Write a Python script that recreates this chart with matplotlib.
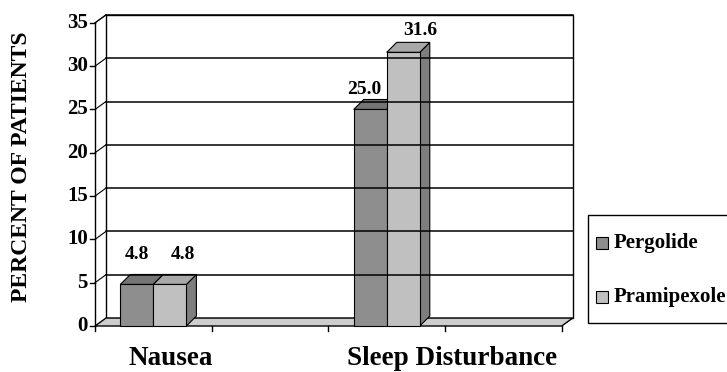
import numpy as np
import matplotlib
matplotlib.use("Agg")
import matplotlib.pyplot as plt
from matplotlib.patches import Polygon, Rectangle

plt.rcParams['font.family'] = ['Liberation Serif', 'DejaVu Serif']
plt.rcParams['font.weight'] = 'bold'

categories = ["Nausea", "Sleep Disturbance"]
cat_slot = [0, 2]                 # slots on the 4-slot floor
series = ["Pergolide", "Pramipexole"]
pergolide = [4.8, 25.0]
pramipexole = [4.8, 31.6]
yticks = [0, 5, 10, 15, 20, 25, 30, 35]

front = {"Pergolide": "#8e8e8e", "Pramipexole": "#c0c0c0"}
top = {"Pergolide": "#757575", "Pramipexole": "#a9a9a9"}
side = {"Pergolide": "#6a6a6a", "Pramipexole": "#7e7e7e"}

n_slots = 4
ymax = 35
wall_dx, wall_dy = 0.094, 0.92    # depth of floor / back wall
bar_dx, bar_dy = 0.086, 1.15      # depth of a column
bar_w = 0.283

fig = plt.figure(figsize=(7.27, 3.72), dpi=100)
ax = fig.add_axes([0, 0, 1, 1])
ax.set_xlim(-0.814, 5.416)
ax.set_ylim(-5.31, 37.64)
ax.axis("off")

lw = 1.0
# back wall with gridlines
ax.add_patch(Rectangle((wall_dx, wall_dy), n_slots, ymax, facecolor="white",
                       edgecolor="black", lw=lw))
for v in yticks[1:]:
    ax.plot([wall_dx, n_slots + wall_dx], [v + wall_dy, v + wall_dy], color="black", lw=1.1)
    ax.plot([0, wall_dx], [v, v + wall_dy], color="black", lw=0.8)

# left wall and y axis
ax.plot([0, 0], [0, ymax], color="black", lw=lw)
ax.plot([0, wall_dx], [ymax, ymax + wall_dy], color="black", lw=0.8)
for v in yticks:
    ax.plot([-0.045, 0], [v, v], color="black", lw=lw)
    ax.text(-0.06, v, str(v), ha="right", va="center", fontsize=15, fontweight="bold")

# floor
ax.add_patch(Polygon([(0, 0), (n_slots, 0), (n_slots + wall_dx, wall_dy), (wall_dx, wall_dy)],
                     closed=True, facecolor="#cdcdcd", edgecolor="black", lw=lw))
for s in range(n_slots + 1):
    ax.plot([s, s], [0, -0.6], color="black", lw=lw)


def column(x0, v, name):
    ax.add_patch(Polygon([(x0 + bar_w, 0), (x0 + bar_w + bar_dx, bar_dy),
                          (x0 + bar_w + bar_dx, v + bar_dy), (x0 + bar_w, v)],
                         closed=True, facecolor=side[name], edgecolor="black", lw=0.8))
    ax.add_patch(Polygon([(x0, v), (x0 + bar_w, v), (x0 + bar_w + bar_dx, v + bar_dy),
                          (x0 + bar_dx, v + bar_dy)],
                         closed=True, facecolor=top[name], edgecolor="black", lw=0.8))
    ax.add_patch(Rectangle((x0, 0), bar_w, v, facecolor=front[name], edgecolor="black", lw=0.8))


label_nudge = [(0, 30), (13, 30), (-6, 20), (17, 22)]
k = 0
for i, slot in enumerate(cat_slot):
    x0 = slot + 0.5 - bar_w
    for j, (name, vals) in enumerate(zip(series, [pergolide, pramipexole])):
        xs = x0 + j * bar_w
        column(xs, vals[i], name)
        dx, dy = label_nudge[k]
        ax.annotate(f"{vals[i]:.1f}", (xs + bar_w / 2, vals[i]), xytext=(dx, dy),
                    textcoords="offset pixels", ha="center", va="center",
                    fontsize=14, fontweight="bold")
        k += 1

label_x = [0.651, 3.06]
for name, lx in zip(categories, label_x):
    ax.text(lx, -3.7, name, ha="center", va="center", fontsize=19.5, fontweight="bold")

fig.text(22 / 727, 1 - 167 / 372, "PERCENT OF PATIENTS", rotation=90, ha="center",
         va="center", fontsize=17, fontweight="bold")

# legend box
fig.patches.append(Rectangle((588 / 727, 1 - 323 / 372), 0.3, 108 / 372,
                             transform=fig.transFigure, facecolor="white",
                             edgecolor="black", lw=lw, figure=fig))
for j, name in enumerate(series):
    yc = 1 - (243 + 54 * j) / 372
    fig.patches.append(Rectangle((596 / 727, yc - 6 / 372), 12 / 727, 12 / 372,
                                 transform=fig.transFigure, facecolor=front[name],
                                 edgecolor="black", lw=0.8, figure=fig))
    fig.text(614 / 727, yc, name, ha="left", va="center", fontsize=15, fontweight="bold")

fig.savefig("out.png", dpi=100)
